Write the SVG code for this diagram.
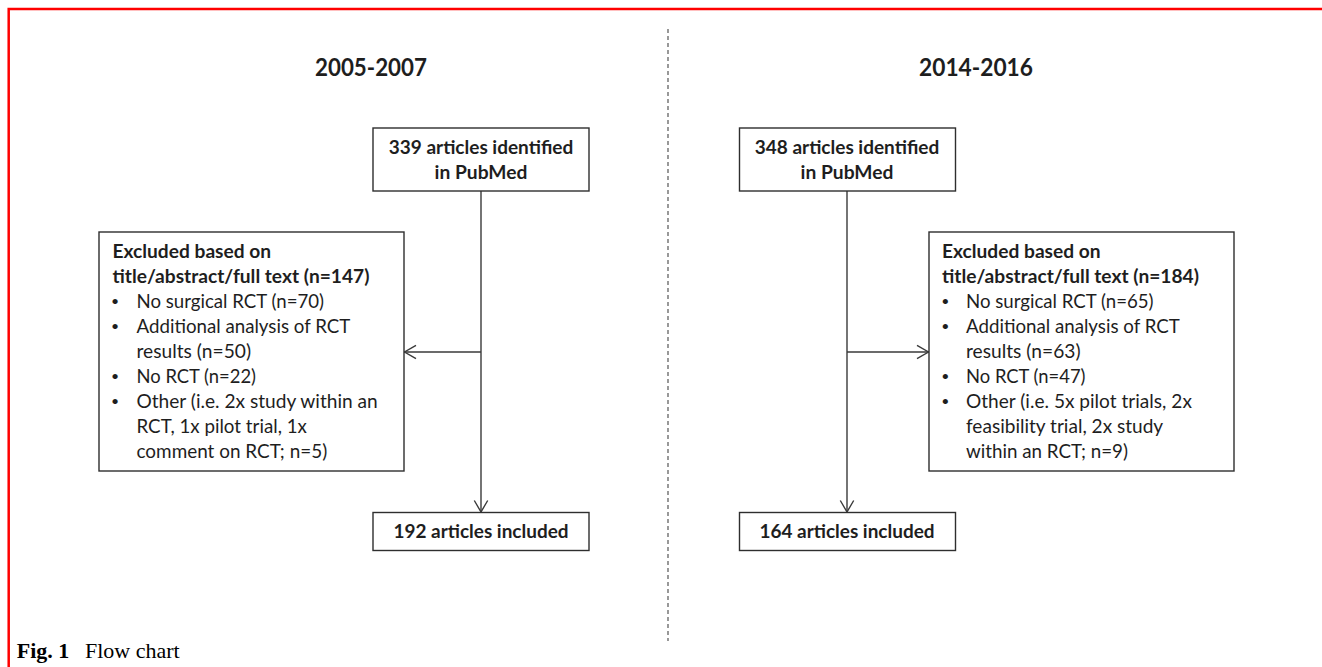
<svg xmlns="http://www.w3.org/2000/svg" width="1322" height="667" viewBox="0 0 1322 667">
<defs>
<style>
.frame{stroke:#ff0000;stroke-width:2.5;fill:none}
.div{stroke:#555;stroke-width:1.2;stroke-dasharray:4 3;fill:none}
.box{fill:#fff;stroke:#2e2e2e;stroke-width:1.4}
.conn{stroke:#3a3a3a;stroke-width:1.4;fill:none}
.t{font-family:Lato,"Liberation Sans",sans-serif;font-size:19px;fill:#1e1e1e}
.b{font-weight:bold}
.bl{font-family:Lato,"Liberation Sans",sans-serif;font-size:14px;fill:#1e1e1e}
.h{font-family:Lato,"Liberation Sans",sans-serif;font-size:25px;font-weight:bold;fill:#1e1e1e}
.c{font-family:"Liberation Serif","Times New Roman",serif;font-size:22px;fill:#000}
</style>
<marker id="ah" viewBox="-13 -8 14 16" refX="0" refY="0" markerWidth="14" markerHeight="16" markerUnits="userSpaceOnUse" orient="auto">
<path d="M-11.5,-6.7 L0,0 L-11.5,6.7" fill="none" stroke="#3a3a3a" stroke-width="1.4"/>
</marker>
</defs>
<rect width="1322" height="667" fill="#fff"/>
<g id="frame">
<path class="frame" d="M1322,9 L8.7,9 L8.7,667"/>
</g>
<g id="divider">
<line class="div" x1="668" y1="29" x2="668" y2="641"/>
</g>
<g id="headings">
<text class="h" x="371" y="75.5" text-anchor="middle" textLength="112" lengthAdjust="spacingAndGlyphs">2005-2007</text>
<text class="h" x="976" y="75.5" text-anchor="middle" textLength="114" lengthAdjust="spacingAndGlyphs">2014-2016</text>
</g>
<g id="connectors">
<line class="conn" x1="481" y1="191" x2="481" y2="512" marker-end="url(#ah)"/>
<line class="conn" x1="481" y1="352" x2="404.5" y2="352" marker-end="url(#ah)"/>
<line class="conn" x1="847" y1="191" x2="847" y2="512" marker-end="url(#ah)"/>
<line class="conn" x1="847" y1="352" x2="928.5" y2="352" marker-end="url(#ah)"/>
</g>
<g id="identified-2005">
<rect class="box" x="373" y="128" width="216" height="63"/>
<text class="t b" x="481" y="154" text-anchor="middle" textLength="184.5" lengthAdjust="spacingAndGlyphs">339 articles identified</text>
<text class="t b" x="481" y="179" text-anchor="middle" textLength="92.8" lengthAdjust="spacingAndGlyphs">in PubMed</text>
</g>
<g id="identified-2014">
<rect class="box" x="739.5" y="128" width="216" height="63"/>
<text class="t b" x="847" y="154" text-anchor="middle" textLength="184.5" lengthAdjust="spacingAndGlyphs">348 articles identified</text>
<text class="t b" x="847" y="179" text-anchor="middle" textLength="92.8" lengthAdjust="spacingAndGlyphs">in PubMed</text>
</g>
<g id="excluded-2005">
<rect class="box" x="99" y="232" width="305" height="239"/>
<text class="t b" x="112.5" y="258" textLength="158.6" lengthAdjust="spacingAndGlyphs">Excluded based on</text>
<text class="t b" x="112.5" y="283" textLength="256.9" lengthAdjust="spacingAndGlyphs">title/abstract/full text (n=147)</text>
<text class="bl" x="115" y="306" text-anchor="middle">•</text>
<text class="t" x="136.5" y="308" textLength="187.6" lengthAdjust="spacingAndGlyphs">No surgical RCT (n=70)</text>
<text class="bl" x="115" y="331" text-anchor="middle">•</text>
<text class="t" x="136.5" y="333" textLength="213.8" lengthAdjust="spacingAndGlyphs">Additional analysis of RCT</text>
<text class="t" x="136.5" y="358" textLength="114.5" lengthAdjust="spacingAndGlyphs">results (n=50)</text>
<text class="bl" x="115" y="381" text-anchor="middle">•</text>
<text class="t" x="136.5" y="383" textLength="119.5" lengthAdjust="spacingAndGlyphs">No RCT (n=22)</text>
<text class="bl" x="115" y="406" text-anchor="middle">•</text>
<text class="t" x="136.5" y="408" textLength="241.2" lengthAdjust="spacingAndGlyphs">Other (i.e. 2x study within an</text>
<text class="t" x="136.5" y="433" textLength="170.4" lengthAdjust="spacingAndGlyphs">RCT, 1x pilot trial, 1x</text>
<text class="t" x="136.5" y="458" textLength="190.7" lengthAdjust="spacingAndGlyphs">comment on RCT; n=5)</text>
</g>
<g id="excluded-2014">
<rect class="box" x="929" y="232" width="305" height="239"/>
<text class="t b" x="942" y="258" textLength="158.6" lengthAdjust="spacingAndGlyphs">Excluded based on</text>
<text class="t b" x="942" y="283" textLength="256.9" lengthAdjust="spacingAndGlyphs">title/abstract/full text (n=184)</text>
<text class="bl" x="945.3" y="306" text-anchor="middle">•</text>
<text class="t" x="966" y="308" textLength="187.6" lengthAdjust="spacingAndGlyphs">No surgical RCT (n=65)</text>
<text class="bl" x="945.3" y="331" text-anchor="middle">•</text>
<text class="t" x="966" y="333" textLength="213.8" lengthAdjust="spacingAndGlyphs">Additional analysis of RCT</text>
<text class="t" x="966" y="358" textLength="114.5" lengthAdjust="spacingAndGlyphs">results (n=63)</text>
<text class="bl" x="945.3" y="381" text-anchor="middle">•</text>
<text class="t" x="966" y="383" textLength="119.5" lengthAdjust="spacingAndGlyphs">No RCT (n=47)</text>
<text class="bl" x="945.3" y="406" text-anchor="middle">•</text>
<text class="t" x="966" y="408" textLength="225.9" lengthAdjust="spacingAndGlyphs">Other (i.e. 5x pilot trials, 2x</text>
<text class="t" x="966" y="433" textLength="197.2" lengthAdjust="spacingAndGlyphs">feasibility trial, 2x study</text>
<text class="t" x="966" y="458" textLength="162" lengthAdjust="spacingAndGlyphs">within an RCT; n=9)</text>
</g>
<g id="included-2005">
<rect class="box" x="373" y="512.5" width="216" height="38"/>
<text class="t b" x="481" y="538" text-anchor="middle" textLength="175.1" lengthAdjust="spacingAndGlyphs">192 articles included</text>
</g>
<g id="included-2014">
<rect class="box" x="739.5" y="512.5" width="216" height="38"/>
<text class="t b" x="847" y="538" text-anchor="middle" textLength="175.1" lengthAdjust="spacingAndGlyphs">164 articles included</text>
</g>
<g id="caption">
<text class="c" x="16.7" y="657.5"><tspan font-weight="bold">Fig. 1</tspan></text>
<text class="c" x="85" y="657.5">Flow chart</text>
</g>
</svg>
